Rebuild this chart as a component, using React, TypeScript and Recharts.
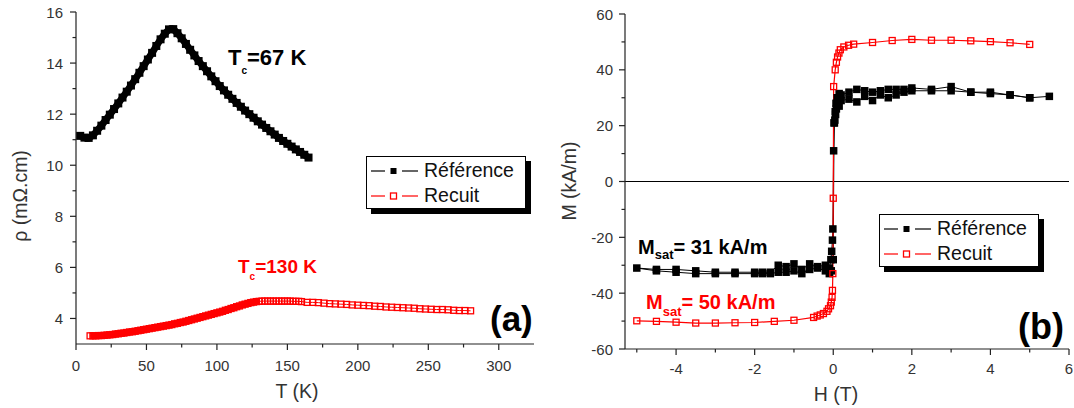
import { ComposedChart, Line, XAxis, YAxis, ReferenceLine } from 'recharts';

// ---- (a) resistivity vs temperature ----
const tempRef = [3, 6, 9, 12, 15, 18, 21, 24, 27, 30, 33, 36, 39, 42, 45, 48, 51, 54, 57, 60, 63, 66, 69, 72, 75, 78, 81, 84, 87, 90, 93, 96, 99, 102, 105, 108, 111, 114, 117, 120, 123, 126, 129, 132, 135, 138, 141, 144, 147, 150, 153, 156, 159, 162, 165];
const rhoRef = [11.15, 11.08, 11.07, 11.17, 11.35, 11.55, 11.77, 11.98, 12.2, 12.42, 12.65, 12.88, 13.12, 13.37, 13.62, 13.88, 14.14, 14.4, 14.67, 14.93, 15.15, 15.32, 15.33, 15.17, 14.97, 14.75, 14.52, 14.3, 14.08, 13.88, 13.68, 13.48, 13.29, 13.1, 12.93, 12.76, 12.6, 12.44, 12.29, 12.14, 12.0, 11.86, 11.72, 11.59, 11.46, 11.33, 11.2, 11.07, 10.95, 10.84, 10.73, 10.62, 10.52, 10.41, 10.3];

const tempAnneal = [
  10, 12, 14, 16, 18, 20, 22, 24, 26, 28, 30, 32, 34, 36, 38, 40, 42, 44, 46, 48, 50, 52, 54, 56, 58, 60, 62, 64, 66, 68,
  70, 72, 74, 76, 78, 80, 82, 84, 86, 88, 90, 92, 94, 96, 98, 100, 102, 104, 106, 108, 110, 112, 114, 116, 118, 120, 122, 124, 126, 128, 130,
  132, 134, 136, 138, 140, 142, 144, 146, 148, 150, 152, 154, 156, 158, 160,
  164, 168, 172, 176, 180, 184, 188, 192, 196, 200, 204, 208, 212, 216, 220, 224, 228, 232, 236, 240, 244, 248, 252, 256, 260, 264, 268, 272, 276, 280,
];
const rhoAnneal = [
  3.32, 3.32, 3.32, 3.33, 3.33, 3.34, 3.35, 3.36, 3.37, 3.39, 3.4, 3.42, 3.43, 3.45, 3.47, 3.48, 3.5, 3.52, 3.54, 3.56, 3.58, 3.6, 3.62, 3.64, 3.66, 3.68, 3.7, 3.72, 3.74, 3.76,
  3.79, 3.81, 3.84, 3.86, 3.89, 3.92, 3.95, 3.98, 4.01, 4.04, 4.07, 4.1, 4.13, 4.16, 4.19, 4.22, 4.25, 4.28, 4.32, 4.35, 4.39, 4.42, 4.46, 4.49, 4.53, 4.56, 4.59, 4.62, 4.64, 4.66, 4.67,
  4.68, 4.68, 4.68, 4.68, 4.68, 4.68, 4.68, 4.68, 4.68, 4.68, 4.68, 4.67, 4.67, 4.67, 4.66,
  4.63, 4.63, 4.62, 4.6, 4.58, 4.57, 4.56, 4.55, 4.53, 4.52, 4.51, 4.5, 4.48, 4.47, 4.45, 4.44, 4.43, 4.42, 4.41, 4.4, 4.38, 4.37, 4.36, 4.35, 4.35, 4.34, 4.32, 4.31, 4.31, 4.3,
];

const tTicks = [0, 25, 50, 75, 100, 125, 150, 175, 200, 225, 250, 275, 300];
const rhoTicks = [4, 5, 6, 7, 8, 9, 10, 11, 12, 13, 14, 15, 16];

// ---- (b) magnetisation vs field ----
const fieldRefDown = [5.5, 5, 4.5, 4, 3.5, 3, 2.5, 2, 1.8, 1.6, 1.4, 1.2, 1, 0.8, 0.6, 0.4, 0.2, 0.15, 0.1, 0.07, 0.05, 0.03, 0.01, -0.01, -0.02, -0.04, -0.06, -0.1, -0.2, -0.4, -0.6, -0.8, -1, -1.2, -1.4, -1.6, -1.8, -2, -2.5, -3, -3.5, -4, -4.5, -5];
const magRefDown = [30.5, 30, 31, 32, 32, 34, 33, 33.5, 33, 33, 33, 32.5, 32, 32.5, 33, 32, 31, 31.5, 30, 28, 25, 21, 11, -17, -21, -25, -28, -31, -30, -30.5, -29.5, -31.5, -29.5, -30.5, -30, -32.5, -32.5, -32.5, -32.5, -32.5, -32, -31.5, -31.5, -31];
const fieldRefUp = [-4.5, -4, -3.5, -3, -2.5, -2, -1.8, -1.6, -1.4, -1.2, -1, -0.8, -0.6, -0.4, -0.2, -0.1, -0.05, 0, 0.02, 0.04, 0.06, 0.08, 0.1, 0.15, 0.2, 0.4, 0.6, 0.8, 1, 1.2, 1.4, 1.6, 1.8, 2, 2.5, 3, 3.5, 4, 4.5, 5];
const magRefUp = [-32, -32.5, -33, -33, -33, -33, -33, -33, -32.5, -32.5, -32, -33, -31.5, -31, -32, -33, -32, -28, 21, 22, 24, 26, 28, 27, 29, 29.5, 28.5, 30.5, 29, 31, 30, 31, 32, 32.5, 32.5, 32.5, 32, 31.5, 31, 30];

const fieldAnneal = [-5, -4.5, -4, -3.5, -3, -2.5, -2, -1.5, -1, -0.5, -0.41, -0.33, -0.25, -0.16, -0.12, -0.07, -0.05, -0.03, -0.02, -0.01, 0, 0.01, 0.05, 0.08, 0.11, 0.145, 0.18, 0.27, 0.39, 0.52, 1, 1.5, 2, 2.5, 3, 3.5, 4, 4.5, 5];
const magAnneal = [-49.9, -50.1, -50.4, -50.7, -50.7, -50.6, -50.5, -50.1, -49.7, -48.7, -48.2, -47.8, -47.3, -46.5, -45.6, -44.5, -43.2, -41.5, -39, -33, -6, 34, 40, 42.7, 44.6, 46, 47.2, 48.2, 48.8, 49.2, 49.8, 50.5, 50.9, 50.6, 50.6, 50.4, 50.1, 49.7, 49.1];

const hTicks = [-5, -4, -3, -2, -1, 0, 1, 2, 3, 4, 5, 6];
const mTicks = [-60, -50, -40, -30, -20, -10, 0, 10, 20, 30, 40, 50, 60];

const legendNames = ['Référence', 'Recuit'];

const FONT = 'Arial, "Liberation Sans", Helvetica, sans-serif';
const AX = '#222';
const LBL = '#333';
const RED = '#ff0000';

const rows = (xs: number[], ys: number[]) => xs.map((x, i) => ({ x, y: ys[i] }));

const refRhoRows = rows(tempRef, rhoRef);
const annealRhoRows = rows(tempAnneal, rhoAnneal);
// the densely sampled low-T part of the annealed curve reads as a solid band
const annealRhoDense = annealRhoRows.filter((r) => r.x <= 130);
const refMagRows = [...rows(fieldRefDown, magRefDown), ...rows(fieldRefUp, magRefUp)];
const annealMagRows = rows(fieldAnneal, magAnneal);

const filledSquare = (size: number) => (p: any) => (
  <rect key={`f${p.index}`} x={p.cx - size / 2} y={p.cy - size / 2} width={size} height={size} fill="#000" />
);
const openSquare = (size: number) => (p: any) => (
  <rect key={`o${p.index}`} x={p.cx - size / 2} y={p.cy - size / 2} width={size} height={size} fill="none" stroke={RED} strokeWidth={1.3} />
);

function bottomTick(isMajor: (v: number) => boolean, labelDy: number) {
  return (p: any) => {
    const { x, y, payload } = p;
    const major = isMajor(payload.value);
    return (
      <g>
        <line x1={x} y1={y} x2={x} y2={y + (major ? 6 : 3.5)} stroke={AX} strokeWidth={1.2} />
        {major && (
          <text x={x} y={y + labelDy} textAnchor="middle" fontSize={15} fill={LBL} fontFamily={FONT}>
            {payload.value}
          </text>
        )}
      </g>
    );
  };
}

function leftTick(isMajor: (v: number) => boolean, labelDx: number) {
  return (p: any) => {
    const { x, y, payload } = p;
    const major = isMajor(payload.value);
    return (
      <g>
        <line x1={x - (major ? 6 : 3.5)} y1={y} x2={x} y2={y} stroke={AX} strokeWidth={1.2} />
        {major && (
          <text x={x - labelDx} y={y + 5.5} textAnchor="end" fontSize={15} fill={LBL} fontFamily={FONT}>
            {payload.value}
          </text>
        )}
      </g>
    );
  };
}

function LegendBox({ left, top }: { left: number; top: number }) {
  return (
    <div
      style={{
        position: 'absolute', left, top, width: 160, height: 53, boxSizing: 'border-box',
        border: '1px solid #000', boxShadow: '5px 5px 0 #000', background: '#fff',
      }}
    >
      {legendNames.map((name, i) => {
        const col = i === 0 ? '#000' : RED;
        return (
          <div key={name} style={{ position: 'absolute', left: 0, top: 1 + i * 25, height: 25, display: 'flex', alignItems: 'center' }}>
            <svg width={57} height={20} style={{ display: 'block' }}>
              <line x1={4} y1={10} x2={18} y2={10} stroke={col} strokeWidth={1.2} />
              <line x1={35} y1={10} x2={51} y2={10} stroke={col} strokeWidth={1.2} />
              {i === 0 ? (
                <rect x={23.5} y={7} width={6} height={6} fill="#000" />
              ) : (
                <rect x={23.5} y={7} width={6} height={6} fill="none" stroke={RED} strokeWidth={1.3} />
              )}
            </svg>
            <span style={{ fontFamily: FONT, fontSize: 19.5, color: '#111', lineHeight: 1 }}>{name}</span>
          </div>
        );
      })}
    </div>
  );
}

const abs = (left: number, top: number, extra: any = {}) => ({
  position: 'absolute' as const, left, top, fontFamily: FONT, lineHeight: 1, whiteSpace: 'nowrap' as const, ...extra,
});

export default function App() {
  return (
    <div style={{ position: 'absolute', left: 0, top: 0, width: 1074, height: 408, background: '#fff', overflow: 'hidden' }}>
      {/* (a) */}
      <div style={{ position: 'absolute', left: 0, top: 0 }}>
        <ComposedChart width={540} height={408} margin={{ top: 12, right: 6, bottom: 0, left: 0 }}>
          <XAxis
            dataKey="x" type="number" domain={[0, 325]} allowDataOverflow ticks={tTicks} interval={0}
            height={64} tickLine={false} tickSize={0} tickMargin={0}
            axisLine={{ stroke: AX, strokeWidth: 1.2 }} tick={bottomTick((v) => v % 50 === 0, 27)}
          />
          <XAxis xAxisId="top" orientation="top" type="number" domain={[0, 325]} height={0} tick={false} tickLine={false} axisLine={{ stroke: AX, strokeWidth: 1.2 }} />
          <YAxis
            type="number" domain={[3, 16]} allowDataOverflow ticks={rhoTicks} interval={0}
            width={76} tickLine={false} tickSize={0} tickMargin={0}
            axisLine={{ stroke: AX, strokeWidth: 1.2 }} tick={leftTick((v) => v % 2 === 0, 13)}
          />
          <YAxis yAxisId="right" orientation="right" type="number" domain={[3, 16]} width={0} tick={false} tickLine={false} axisLine={{ stroke: AX, strokeWidth: 1.2 }} />
          <Line data={annealRhoDense} dataKey="y" type="linear" stroke={RED} strokeWidth={6.5} dot={false} activeDot={false} isAnimationActive={false} />
          <Line data={annealRhoRows} dataKey="y" type="linear" stroke={RED} strokeWidth={1} dot={openSquare(6)} activeDot={false} isAnimationActive={false} />
          <Line data={refRhoRows} dataKey="y" type="linear" stroke="#000" strokeWidth={7} strokeLinejoin="round" dot={filledSquare(8)} activeDot={false} isAnimationActive={false} />
        </ComposedChart>
      </div>

      {/* (b) */}
      <div style={{ position: 'absolute', left: 540, top: 0 }}>
        <ComposedChart width={534} height={408} margin={{ top: 14, right: 5, bottom: 0, left: 0 }}>
          <XAxis
            dataKey="x" type="number" domain={[-5.3, 6]} allowDataOverflow ticks={hTicks} interval={0}
            height={59} tickLine={false} tickSize={0} tickMargin={0}
            axisLine={{ stroke: AX, strokeWidth: 1.2 }} tick={bottomTick((v) => v % 2 === 0, 25)}
          />
          <XAxis xAxisId="top" orientation="top" type="number" domain={[-5.3, 6]} height={0} tick={false} tickLine={false} axisLine={{ stroke: AX, strokeWidth: 1.2 }} />
          <YAxis
            type="number" domain={[-60, 60]} allowDataOverflow ticks={mTicks} interval={0}
            width={85} tickLine={false} tickSize={0} tickMargin={0}
            axisLine={{ stroke: AX, strokeWidth: 1.2 }} tick={leftTick((v) => v % 20 === 0, 12)}
          />
          <YAxis yAxisId="right" orientation="right" type="number" domain={[-60, 60]} width={0} tick={false} tickLine={false} axisLine={{ stroke: AX, strokeWidth: 1.2 }} />
          <ReferenceLine y={0} stroke="#000" strokeWidth={1.2} />
          <Line data={refMagRows} dataKey="y" type="linear" stroke="#000" strokeWidth={1} dot={filledSquare(7.5)} activeDot={false} isAnimationActive={false} />
          <Line data={annealMagRows} dataKey="y" type="linear" stroke={RED} strokeWidth={1.2} dot={openSquare(6)} activeDot={false} isAnimationActive={false} />
        </ComposedChart>
      </div>

      {/* axis titles */}
      <div style={abs(297, 381.5, { fontSize: 19.5, color: LBL, transform: 'translateX(-50%)' })}>T (K)</div>
      <div style={abs(20.5, 196, { fontSize: 19.5, color: LBL, transform: 'translate(-50%, -50%) rotate(-90deg)' })}>ρ (mΩ.cm)</div>
      <div style={abs(836, 384.5, { fontSize: 19.5, color: LBL, transform: 'translateX(-50%)' })}>H (T)</div>
      <div style={abs(569.5, 181, { fontSize: 19.5, color: LBL, transform: 'translate(-50%, -50%) rotate(-90deg)' })}>M (kA/m)</div>

      {/* annotations */}
      <div style={abs(228, 47, { fontSize: 22, fontWeight: 'bold', color: '#000' })}>
        T<span style={{ fontSize: 10, position: 'relative', top: 9 }}>c</span>=67 K
      </div>
      <div style={abs(238, 257, { fontSize: 19, fontWeight: 'bold', color: RED })}>
        T<span style={{ fontSize: 10, position: 'relative', top: 7 }}>c</span>=130 K
      </div>
      <div style={abs(638, 237, { fontSize: 20, fontWeight: 'bold', color: '#000' })}>
        M<span style={{ fontSize: 13, position: 'relative', top: 5 }}>sat</span>= 31 kA/m
      </div>
      <div style={abs(646, 292, { fontSize: 20, fontWeight: 'bold', color: RED })}>
        M<span style={{ fontSize: 13, position: 'relative', top: 7 }}>sat</span>= 50 kA/m
      </div>
      <div style={abs(490, 301, { fontSize: 35, fontWeight: 'bold', color: '#000' })}>(a)</div>
      <div style={abs(1018, 309, { fontSize: 36, fontWeight: 'bold', color: '#000' })}>(b)</div>

      <LegendBox left={366} top={156} />
      <LegendBox left={879} top={214} />
    </div>
  );
}
